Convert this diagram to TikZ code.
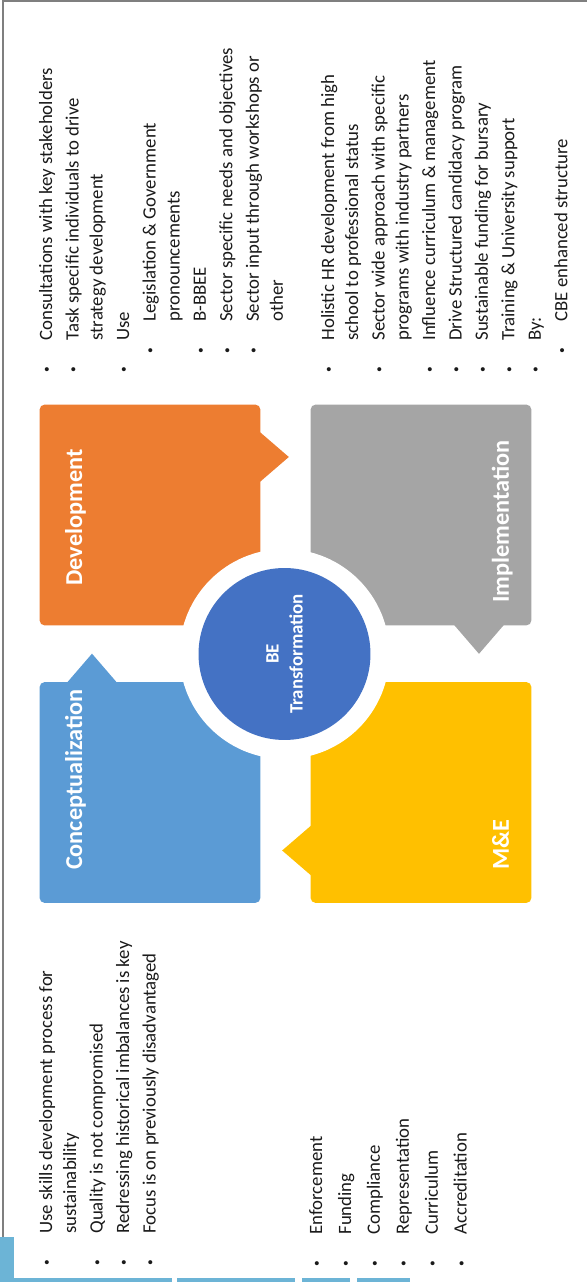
\documentclass[tikz,border=0pt]{standalone}
\usepackage{fontspec}
\setmainfont{Carlito}
\usetikzlibrary{calc,positioning}

\definecolor{concblue}{HTML}{5B9BD5}
\definecolor{devorange}{HTML}{ED7D31}
\definecolor{implgray}{HTML}{A5A5A5}
\definecolor{mneyellow}{HTML}{FFC000}
\definecolor{coreblue}{HTML}{4472C4}
\definecolor{framegray}{HTML}{7F7F7F}
\definecolor{stripblue}{HTML}{6CB4D6}
\definecolor{listtext}{HTML}{1A1A1A}

\newcommand{\bl}{\makebox[18.8pt][l]{\hspace*{0.8pt}\raisebox{1.1pt}{\fontsize{6.5}{6.5}\selectfont\textbullet}}}
\newcommand{\sbl}{\hspace*{10.8pt}\bl}
\newcommand{\ind}{\hspace*{18.8pt}}
\newcommand{\sind}{\hspace*{29.6pt}}

\begin{document}
\begin{tikzpicture}[x=0.02cm,y=0.02cm,rotate=90,transform shape,
  box/.style={rectangle,rounded corners=3pt,minimum width=4.42cm,minimum height=4.42cm,inner sep=0pt},
  head/.style={anchor=base west,inner sep=0pt,text=white,font=\fontsize{13.8}{16}\selectfont\bfseries},
  list/.style={anchor=north west,inner sep=0pt,align=left,text=listtext,font=\fontsize{10.7}{13.66}\selectfont}]

\useasboundingbox (0,0) rectangle (1282,587);

% page frame
\draw[framegray,line width=0.9pt] (0,584) -- (1281,584) -- (1281,0);
% thumbnail strip
\fill[stripblue] (0,573) rectangle (45,587);
\foreach \a/\b in {415/573,292/410,237/285,177/230}
  \fill[stripblue] (0,\a) rectangle (4,\b);

% the four boxes
  \node[box,fill=concblue] (conc) at (489.5,437) {};
  \node[box,fill=devorange] (dev) at (767,437) {};
  \node[box,fill=implgray] (impl) at (767,166) {};
  \node[box,fill=mneyellow] (mne) at (489.5,166) {};

% pointers, one per box
\fill[concblue] ($(conc.east)+(-1,33)$) -- ($(conc.east)+(28,58)$) -- ($(conc.east)+(-1,83)$) -- cycle;
\fill[devorange] ($(dev.south)+(33,1)$) -- ($(dev.south)+(58,-28)$) -- ($(dev.south)+(83,1)$) -- cycle;
\fill[implgray] ($(impl.west)+(1,-33)$) -- ($(impl.west)+(-28,-58)$) -- ($(impl.west)+(1,-83)$) -- cycle;
\fill[mneyellow] ($(mne.north)+(-33,-1)$) -- ($(mne.north)+(-58,28)$) -- ($(mne.north)+(-83,-1)$) -- cycle;

% centre
  \node[circle,fill=white,minimum size=4.2cm,inner sep=0pt] (ring) at (628,302.5) {};
  \node[circle,fill=coreblue,minimum size=3.44cm,inner sep=0pt,text=white,align=center,
    font=\fontsize{10.75}{13.66}\selectfont\bfseries] (core) at (ring) {BE\\Transformation};

% headings
  \node[head] (conchead) at ($(conc.north west)+(33,-43)$) {Conceptualization};
  \node[head] (devhead) at ($(dev.north west)+(40,-43)$) {Development};
  \node[head] (implhead) at ($(impl.south west)+(23,23)$) {Implementation};
  \node[head] (mnehead) at ($(mne.south west)+(33,23)$) {M\&E};

% lists
  \node[list] (conclist) at (15,552) {\strut\bl Use skills development process for\\
    \ind sustainability\\[1.4pt]
    \bl Quality is not compromised\\[1.4pt]
    \bl Redressing historical imbalances is key\\[1.4pt]
    \bl Focus is on previously disadvantaged};

  \node[list] (devlist) at (908,552) {\strut\bl Consultations with key stakeholders\\[1.4pt]
    \bl Task specific individuals to drive\\
    \ind strategy development\\[1.4pt]
    \bl Use\\[1.4pt]
    \sbl Legislation \& Government\\
    \sind pronouncements\\[1.4pt]
    \sbl B-BBEE\\[1.4pt]
    \sbl Sector specific needs and objectives\\[1.4pt]
    \sbl Sector input through workshops or\\
    \sind other};

  \node[list] (impllist) at (908,270) {\strut\bl Holistic HR development from high\\
    \ind school to professional status\\[1.4pt]
    \bl Sector wide approach with specific\\
    \ind programs with industry partners\\[1.4pt]
    \bl Influence curriculum \& management\\[1.4pt]
    \bl Drive Structured candidacy program\\[1.4pt]
    \bl Sustainable funding for bursary\\[1.4pt]
    \bl Training \& University support\\[1.4pt]
    \bl By:\\[1.4pt]
    \sbl CBE enhanced structure};

  \node[list] (mnelist) at (14,282) {\strut\bl Enforcement\\[2.8pt]
    \bl Funding\\[2.8pt]
    \bl Compliance\\[2.8pt]
    \bl Representation\\[2.8pt]
    \bl Curriculum\\[2.8pt]
    \bl Accreditation};

\end{tikzpicture}
\end{document}
